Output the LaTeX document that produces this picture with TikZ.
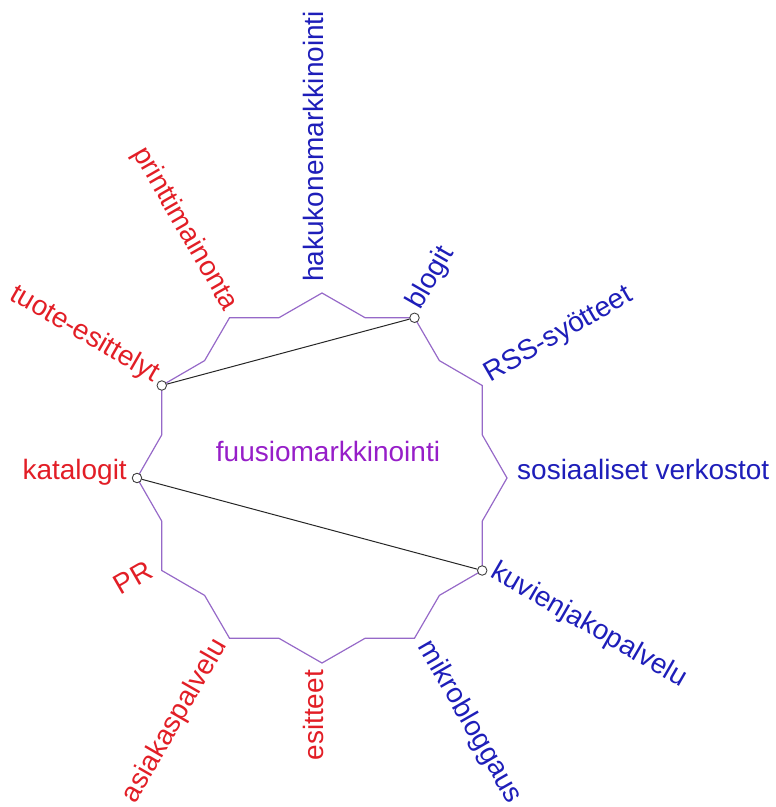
\documentclass[tikz,border=0pt]{standalone}
\usepackage{fontspec}
\setmainfont{Liberation Sans}
\usetikzlibrary{calc}
\definecolor{lred}{RGB}{226,30,38}
\definecolor{lblue}{RGB}{30,30,185}
\definecolor{lpurple}{RGB}{150,30,200}
\definecolor{polyc}{RGB}{150,105,200}
\tikzset{
  lbl/.style={font=\fontsize{28}{33}\selectfont, inner sep=0pt, text height=0.5em, text depth=0.18em},
  rlbl/.style={lbl, text=lblue, anchor=west},
  llbl/.style={lbl, text=lred, anchor=east},
  dot/.style={circle, draw=black!75, fill=white, line width=0.9pt, minimum size=9.5pt, inner sep=0pt},
  polyline/.style={draw=polyc, line width=1.2pt, line join=miter},
  link/.style={draw=black!85, line width=1pt}
}
\begin{document}
\begin{tikzpicture}[x=1pt,y=1pt]
\useasboundingbox (0,0) rectangle (776,807);
\coordinate (c) at (322,329);
% star-shaped outline
\draw[polyline, shift={(322,329)}] plot[samples at={0,15,...,345}] (\x:{185-19*(mod(\x,30)/15)}) -- cycle;
% centre text
\node[lbl, text=lpurple, anchor=base] (centre) at (328,345) {fuusiomarkkinointi};
% marked vertices
\node[dot] (d150) at ($(c)+(150:185)$) {};
\node[dot] (d60)  at ($(c)+(60:185)$) {};
\node[dot] (d180) at ($(c)+(180:185)$) {};
\node[dot] (d330) at ($(c)+(-30:185)$) {};
\draw[link] (d150) -- (d60);
\draw[link] (d180) -- (d330);
% labels, right half (blue)
\node[rlbl, rotate=90]  (hak) at ($(c)+(90:196)$) {hakukonemarkkinointi};
\node[rlbl, rotate=60]  (blo) at ($(c)+(60:194)$) {blogit};
\node[rlbl, rotate=30]  (rss) at ($(c)+(30:194)$) {RSS-syötteet};
\node[rlbl, rotate=0]   (sos) at ($(c)+(0:195)$) {sosiaaliset verkostot};
\node[rlbl, rotate=-30] (kuv) at ($(c)+(-30:194)$) {kuvienjakopalvelu};
\node[rlbl, rotate=-60] (mik) at ($(c)+(-60:194)$) {mikrobloggaus};
% labels, left half (red)
\node[llbl, rotate=90]  (esi) at ($(c)+(-90:192)$) {esitteet};
\node[llbl, rotate=60]  (asi) at ($(c)+(-120:192)$) {asiakaspalvelu};
\node[llbl, rotate=30]  (pr)  at ($(c)+(-150:194)$) {PR};
\node[llbl, rotate=0]   (kat) at ($(c)+(180:195)$) {katalogit};
\node[llbl, rotate=-30] (tuo) at ($(c)+(150:194)$) {tuote-esittelyt};
\node[llbl, rotate=-60] (pri) at ($(c)+(120:192)$) {printtimainonta};
\end{tikzpicture}
\end{document}
